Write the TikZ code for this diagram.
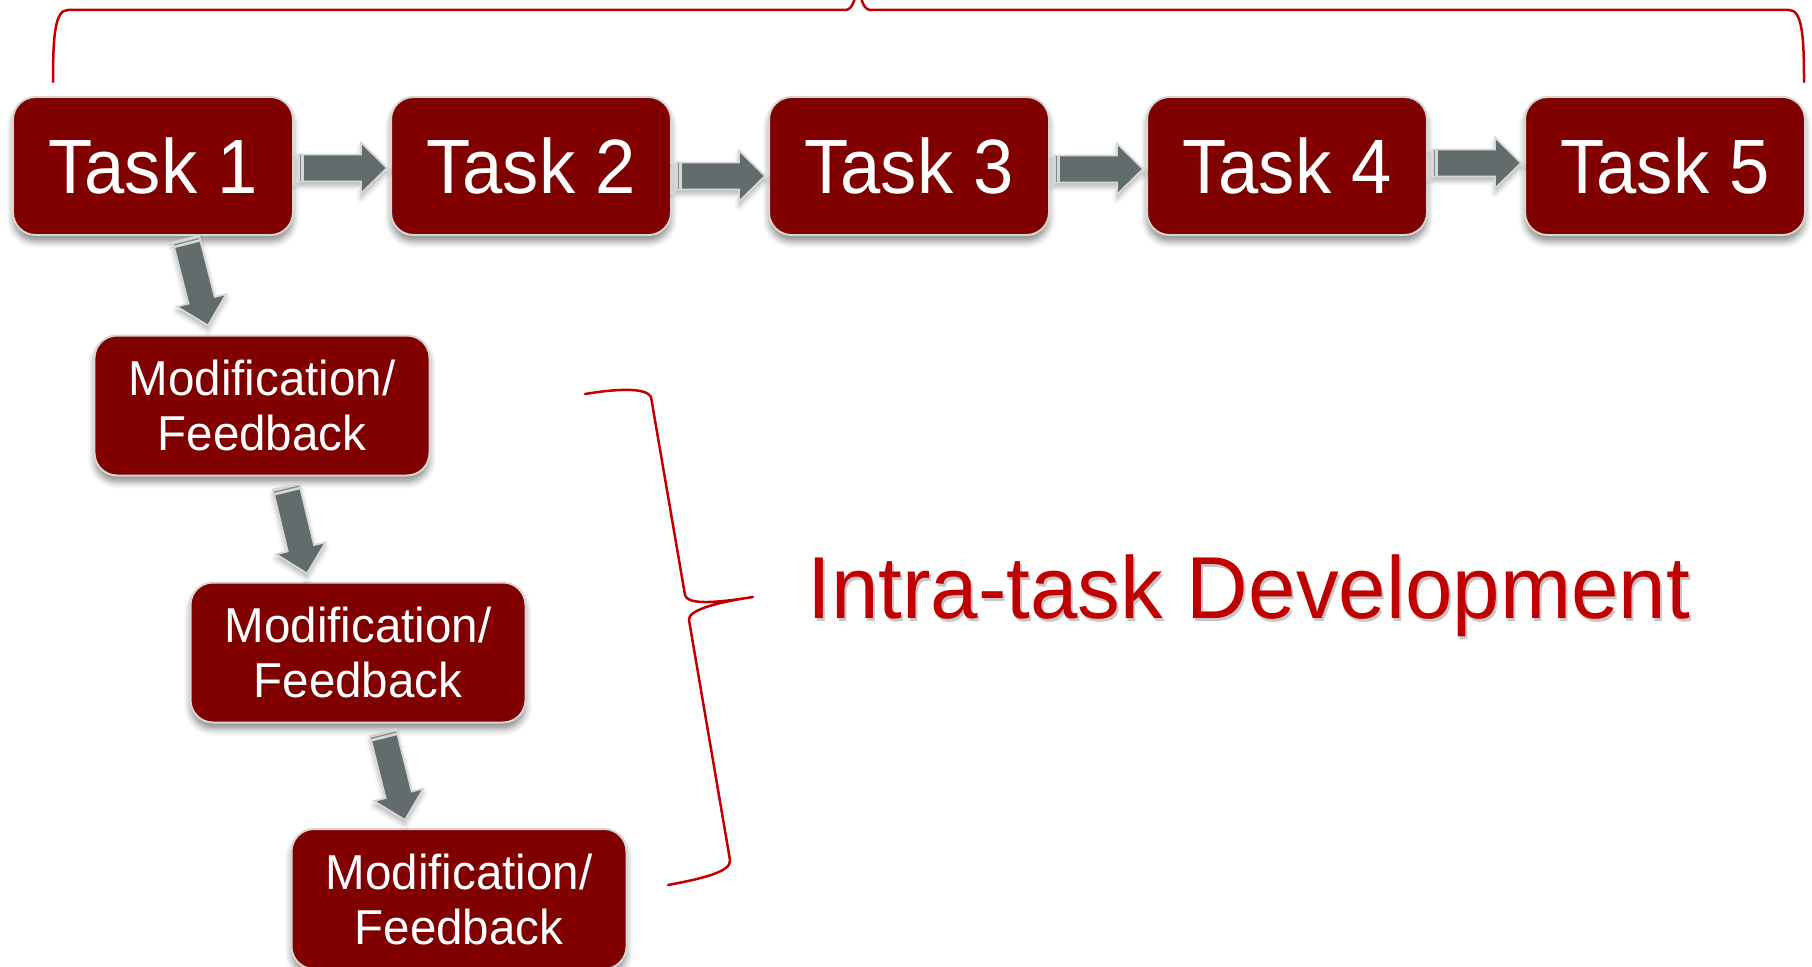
\documentclass[tikz,border=0pt]{standalone}
\usepackage{fontspec}
\setmainfont{Liberation Sans}[FakeStretch=0.97]
\newfontfamily\taskfont{Liberation Sans}[FakeStretch=0.94]
\usetikzlibrary{calc,shadows.blur}

\definecolor{boxred}{RGB}{128,0,0}
\definecolor{bracered}{RGB}{192,0,0}
\definecolor{arrowgray}{RGB}{99,108,108}
\definecolor{arrowedge}{RGB}{214,216,216}

\tikzset{
  taskbox/.style={draw=black!16, line width=0.8pt, fill=boxred, rounded corners=9pt,
    text=white, minimum width=112pt, minimum height=55.2pt, inner sep=0pt,
    font=\taskfont\fontsize{30.8pt}{36pt}\selectfont,
    blur shadow={shadow xshift=0pt, shadow yshift=-2.6pt, shadow blur radius=2.6pt, shadow opacity=45}},
  modbox/.style={taskbox, minimum width=134pt, minimum height=56pt, align=center,
    font=\fontsize{19.6pt}{22pt}\selectfont},
  brace line/.style={draw=bracered, line width=1pt, line cap=round, line join=round},
  blockarrow/.style={fill=arrowgray, draw=arrowedge, line width=0.7pt, line join=miter,
    blur shadow={shadow xshift=0pt, shadow yshift=-1.8pt, shadow blur radius=2pt, shadow opacity=30}},
  arrowtail/.style={fill=arrowedge},
  tailmark/.style={draw=arrowgray!80, line width=0.5pt},
}

% block arrow from one point to another: shaft 27px, head 51px wide, 26px long
\newcommand\blockarr[2]{%
  \path (#1) coordinate (ba-s) (#2) coordinate (ba-e);
  \coordinate (ba-b) at ($(ba-e)!10.4pt!(ba-s)$);
  \coordinate (ba-t) at ($(ba-s)!2.4pt!(ba-e)$);
  \coordinate (ba-m) at ($(ba-s)!1.1pt!(ba-e)$);
  \path[blockarrow] ($(ba-s)!5.4pt!90:(ba-e)$) -- ($(ba-b)!5.4pt!-90:(ba-s)$)
    -- ($(ba-b)!10.2pt!-90:(ba-s)$) -- (ba-e) -- ($(ba-b)!10.2pt!90:(ba-s)$)
    -- ($(ba-b)!5.4pt!90:(ba-s)$) -- ($(ba-s)!5.4pt!-90:(ba-e)$) -- cycle;
  \fill[arrowtail] ($(ba-s)!5.4pt!90:(ba-e)$) -- ($(ba-t)!5.4pt!-90:(ba-s)$)
    -- ($(ba-t)!5.4pt!90:(ba-s)$) -- ($(ba-s)!5.4pt!-90:(ba-e)$) -- cycle;
  \draw[tailmark] ($(ba-m)!5.2pt!90:(ba-e)$) -- ($(ba-m)!5.2pt!-90:(ba-e)$);
}

\begin{document}
\begin{tikzpicture}[x=0.4pt,y=-0.4pt]
  \useasboundingbox (0,0) rectangle (1812,966);
  \clip (0,0) rectangle (1812,966);

  % top row of tasks
  \node[taskbox] (t1) at (153,166) {Task 1};
  \node[taskbox] (t2) at (531,166) {Task 2};
  \node[taskbox] (t3) at (909,166) {Task 3};
  \node[taskbox] (t4) at (1287,166) {Task 4};
  \node[taskbox] (t5) at (1665,166) {Task 5};

  % cascade of revisions under the first task
  \node[modbox] (m1) at (262,405.5) {Modification/\\Feedback};
  \node[modbox] (m2) at (358,652.5) {Modification/\\Feedback};
  \node[modbox] (m3) at (459,899) {Modification/\\Feedback};

  % arrows along the task row
  \blockarr{$(t1.east)+(4,2)$}{$(t2.west)+(-3,2)$}
  \blockarr{$(t2.east)+(4,10)$}{$(t3.west)+(-3,10)$}
  \blockarr{$(t3.east)+(4,3)$}{$(t4.west)+(-3,3)$}
  \blockarr{$(t4.east)+(4,-3)$}{$(t5.west)+(-3,-3)$}

  % arrows down the cascade
  \blockarr{$(t1.south)+(33,3)$}{$(m1.north)+(-54,-9)$}
  \blockarr{$(m1.south)+(24,10)$}{$(m2.north)+(-51,-8)$}
  \blockarr{$(m2.south)+(25,9)$}{$(m3.north)+(-54,-8)$}

  % brace over the whole row
  \draw[brace line] (53,82) .. controls (53,35) and (55,10) .. (68,10) -- (845,10)
    .. controls (852,10) and (854,2) .. (858,-12)
    .. controls (862,2) and (864,10) .. (871,10) -- (1789,10)
    .. controls (1802,10) and (1804,35) .. (1804,82);

  % brace beside the cascade
  \draw[brace line] (585,394) .. controls (615,389) and (646,387) .. (651,397)
    -- (685,595) .. controls (687,604) and (710,604) .. (753,597)
    .. controls (712,603) and (688,611) .. (689,620)
    -- (730,860) .. controls (732,872) and (700,879) .. (668,885);

  % label of the cascade
  \node[anchor=base west, inner sep=0pt, text=black, opacity=0.22,
        font=\fontsize{35.2pt}{40pt}\selectfont] at (809,621) {Intra-task Development};
  \node[anchor=base west, inner sep=0pt, text=bracered,
        font=\fontsize{35.2pt}{40pt}\selectfont] (intra) at (807,618) {Intra-task Development};
\end{tikzpicture}
\end{document}
